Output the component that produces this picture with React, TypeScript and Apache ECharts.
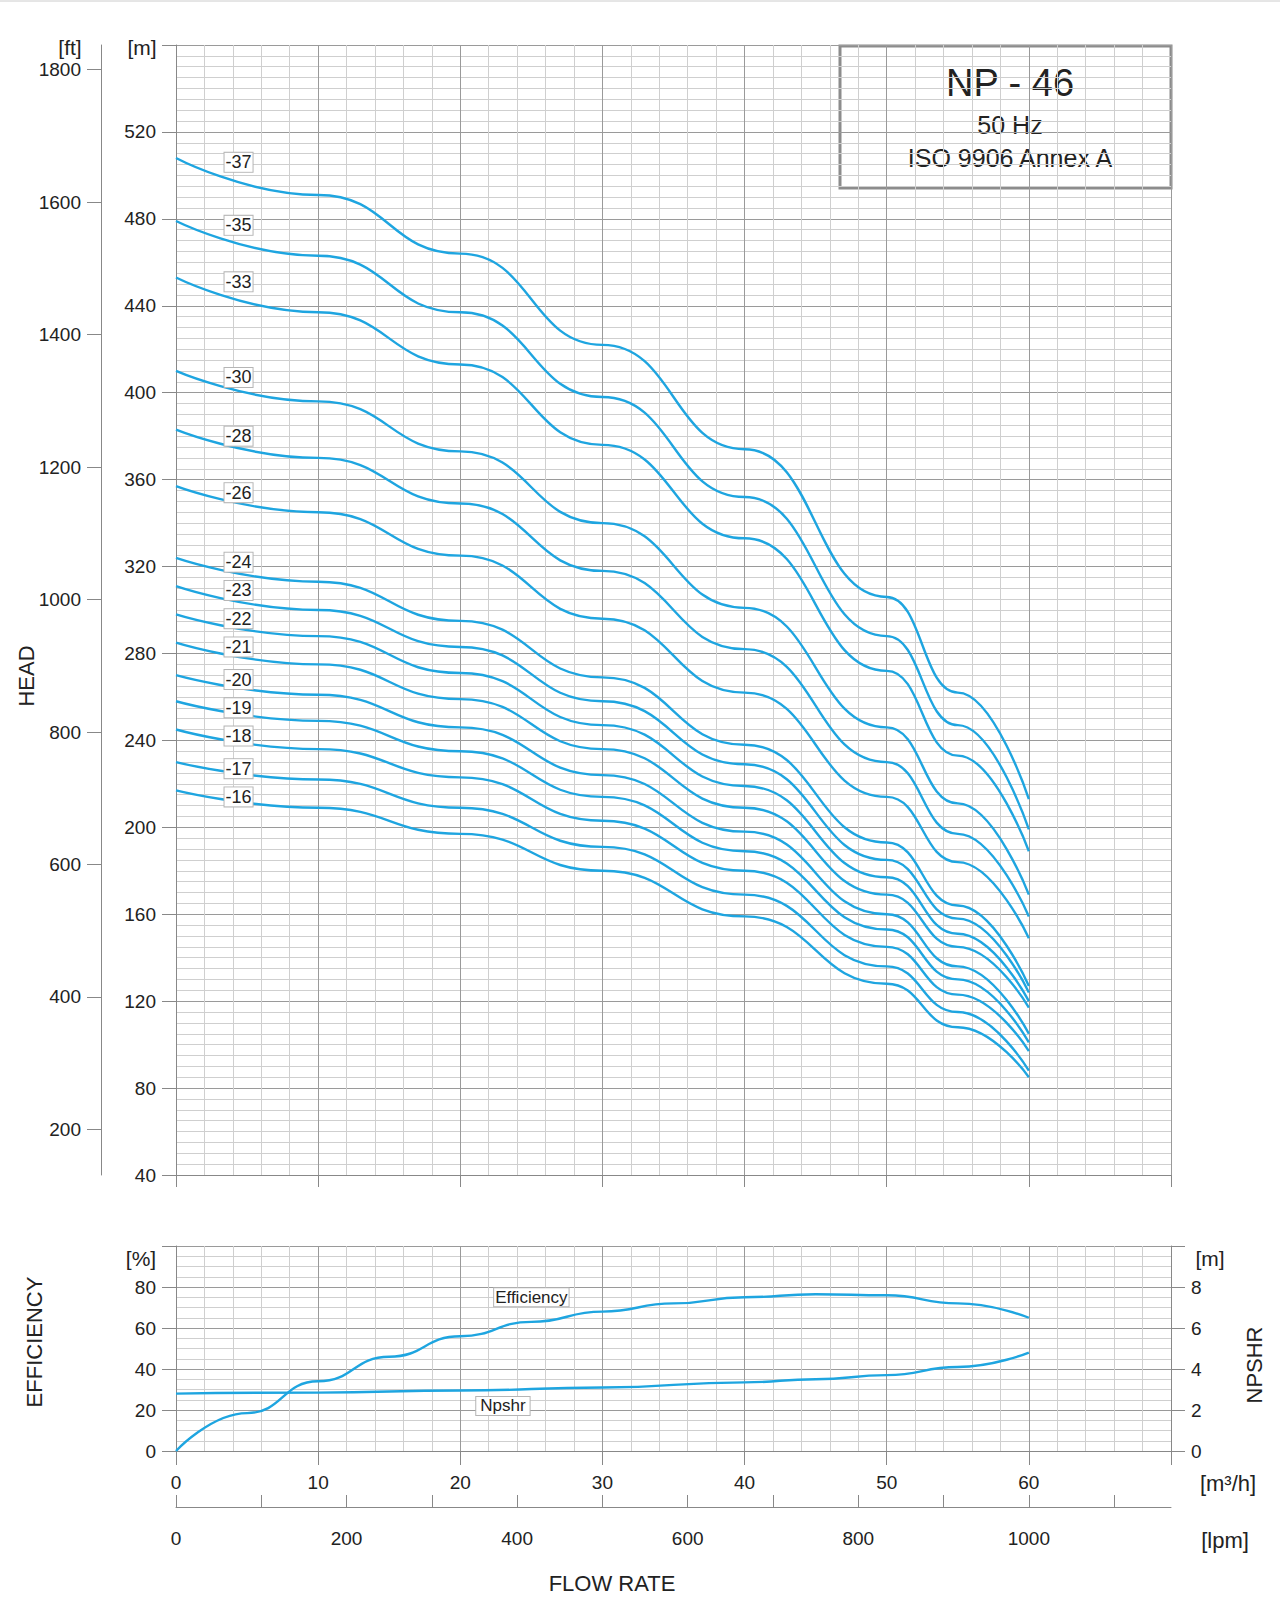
import React, { useEffect, useRef } from "react";
import * as echarts from "echarts";

const flowQ = [0, 10, 20, 30, 40, 50, 55, 60];
const stageNames = ["-37", "-35", "-33", "-30", "-28", "-26", "-24", "-23", "-22", "-21", "-20", "-19", "-18", "-17", "-16"];
const h37 = [508, 491, 464, 422, 374, 306, 262, 213];
const h35 = [479, 463, 437, 398, 352, 288, 247, 199];
const h33 = [453, 437, 413, 376, 333, 272, 233, 189];
const h30 = [410, 396, 373, 340, 301, 246, 211, 169];
const h28 = [383, 370, 349, 318, 282, 230, 197, 159];
const h26 = [357, 345, 325, 296, 262, 214, 184, 149];
const h24 = [324, 313, 295, 269, 238, 193, 164, 127];
const h23 = [311, 300, 283, 258, 229, 185, 158, 124];
const h22 = [298, 288, 271, 247, 219, 177, 151, 120];
const h21 = [285, 275, 259, 236, 209, 169, 145, 117];
const h20 = [270, 261, 246, 224, 198, 160, 136, 105];
const h19 = [258, 249, 235, 214, 189, 153, 130, 101];
const h18 = [245, 236, 223, 203, 180, 145, 123, 97];
const h17 = [230, 222, 209, 191, 169, 136, 115, 88];
const h16 = [217, 209, 197, 180, 159, 128, 108, 85];
const headSeries = [h37, h35, h33, h30, h28, h26, h24, h23, h22, h21, h20, h19, h18, h17, h16];
const labelQ = 4.4;
const labelHeads = [506, 477, 451, 407, 380, 354, 322, 309, 296, 283, 268, 255, 242, 227, 214];

const effQ = [0, 5, 10, 15, 20, 25, 30, 35, 40, 45, 50, 55, 60];
const effVal = [0, 18.5, 34, 46, 56, 63, 68, 72, 75, 76.5, 76, 72, 65];
const npQ = [0, 10, 20, 30, 40, 45, 50, 55, 60];
const npVal = [2.8, 2.85, 2.95, 3.1, 3.35, 3.5, 3.7, 4.1, 4.8];
const ftTicks = [200, 400, 600, 800, 1000, 1200, 1400, 1600, 1800];

const BLUE = "#1ea5e0";
const FONT = "Liberation Sans, Arial, sans-serif";
const TXT = "#222";

export default function App() {
  const ref = useRef<HTMLDivElement>(null);
  useEffect(() => {
    document.body.style.margin = "0";
    const chart = echarts.init(ref.current!, null, { renderer: "svg" });
    const gridLine = { lineStyle: { color: "#9a9a9a", width: 1 } };
    const minorLine = { show: true, lineStyle: { color: "#cfcfcf", width: 1 } };
    const lbl = { color: TXT, fontSize: 19, fontFamily: FONT };
    const axLine = { show: true, onZero: false, lineStyle: { color: "#888" } };
    const series: any[] = headSeries.map((h, i) => ({
      type: "line",
      xAxisIndex: 0,
      yAxisIndex: 0,
      data: flowQ.map((q, j) => [q, h[j]]),
      smooth: 0.5,
      smoothMonotone: "x",
      symbol: "none",
      lineStyle: { color: BLUE, width: 2.4 },
      markPoint: {
        symbol: "rect",
        symbolSize: 0,
        data: [{ coord: [labelQ, labelHeads[i]] }],
        label: {
          show: true,
          position: "inside",
          formatter: stageNames[i],
          backgroundColor: "#fff",
          borderColor: "#b5b5b5",
          borderWidth: 1,
          padding: [1, 1, 0, 1],
          color: TXT,
          fontSize: 18,
          fontFamily: FONT,
        },
      },
    }));
    series.push({
      type: "line", xAxisIndex: 1, yAxisIndex: 2, data: effQ.map((q, j) => [q, effVal[j]]),
      smooth: 0.5, smoothMonotone: "x", symbol: "none", lineStyle: { color: BLUE, width: 2.4 },
      markPoint: {
        symbol: "rect", symbolSize: 0, data: [{ coord: [25, 75] }],
        label: { show: true, position: "inside", formatter: "Efficiency", backgroundColor: "#fff", borderColor: "#b5b5b5", borderWidth: 1, padding: [1, 1, 0, 1], color: TXT, fontSize: 17, fontFamily: FONT },
      },
    });
    series.push({
      type: "line", xAxisIndex: 1, yAxisIndex: 3, data: npQ.map((q, j) => [q, npVal[j]]),
      smooth: 0.5, smoothMonotone: "x", symbol: "none", lineStyle: { color: BLUE, width: 2.4 },
      markPoint: {
        symbol: "rect", symbolSize: 0, data: [{ coord: [23, 2.2] }],
        label: { show: true, position: "inside", formatter: "Npshr", backgroundColor: "#fff", borderColor: "#b5b5b5", borderWidth: 1, padding: [1, 4, 0, 4], color: TXT, fontSize: 17, fontFamily: FONT },
      },
    });

    const textG = (x: number, y: number, text: string, size: number, extra: any = {}) => ({
      type: "text", x, y,
      style: { text, fontSize: size, fontFamily: FONT, fill: TXT, textAlign: "center", textVerticalAlign: "middle", ...extra },
    });
    const rot = (g: any) => ({ ...g, rotation: Math.PI / 2 });

    chart.setOption({
      animation: false,
      grid: [
        { left: 176, width: 995, top: 45, height: 1130, containLabel: false },
        { left: 176, width: 995, top: 1246, height: 205, containLabel: false },
      ],
      xAxis: [
        {
          type: "value", gridIndex: 0, min: 0, max: 70, interval: 10,
          axisLine: axLine,
          axisTick: { show: true, length: 12, lineStyle: { color: "#888" } },
          axisLabel: { show: false },
          splitLine: gridLine, minorTick: { show: false, splitNumber: 5 }, minorSplitLine: minorLine,
        },
        {
          type: "value", gridIndex: 1, min: 0, max: 70, interval: 10,
          axisLine: axLine,
          axisTick: { show: true, length: 14, lineStyle: { color: "#888" } },
          axisLabel: { ...lbl, margin: 22, formatter: (v: number) => (v > 60 ? "" : String(v)) },
          splitLine: gridLine, minorTick: { show: false, splitNumber: 5 }, minorSplitLine: minorLine,
        },
        {
          type: "value", gridIndex: 1, min: 0, max: 7000 / 6, interval: 100, position: "bottom", offset: 56,
          axisLine: axLine,
          axisTick: { show: true, inside: true, length: 12, lineStyle: { color: "#888" } },
          axisLabel: { ...lbl, margin: 22, showMaxLabel: false, formatter: (v: number) => (v % 200 === 0 && v <= 1000 ? String(v) : "") },
          splitLine: { show: false },
        },
      ],
      yAxis: [
        {
          type: "value", gridIndex: 0, min: 40, max: 560, interval: 40, position: "left",
          axisLine: axLine,
          axisTick: { show: true, length: 14, lineStyle: { color: "#888" } },
          axisLabel: { ...lbl, margin: 20, formatter: (v: number) => (v >= 560 ? "" : String(v)) },
          splitLine: gridLine, minorTick: { show: false, splitNumber: 8 }, minorSplitLine: minorLine,
        },
        {
          type: "value", gridIndex: 0, min: 40 * 3.28084, max: 560 * 3.28084, position: "left", offset: 75,
          axisLine: axLine,
          axisTick: { show: true, length: 14, customValues: ftTicks, lineStyle: { color: "#888" } },
          axisLabel: { ...lbl, margin: 20, customValues: ftTicks, formatter: (v: number) => String(Math.round(v)) },
          splitLine: { show: false },
        },
        {
          type: "value", gridIndex: 1, min: 0, max: 100, interval: 20, position: "left",
          axisLine: axLine,
          axisTick: { show: true, length: 14, lineStyle: { color: "#888" } },
          axisLabel: { ...lbl, margin: 20, formatter: (v: number) => (v >= 100 ? "" : String(v)) },
          splitLine: gridLine, minorTick: { show: false, splitNumber: 4 }, minorSplitLine: minorLine,
        },
        {
          type: "value", gridIndex: 1, min: 0, max: 10, interval: 2, position: "right",
          axisLine: axLine,
          axisTick: { show: true, length: 14, lineStyle: { color: "#888" } },
          axisLabel: { ...lbl, margin: 20, formatter: (v: number) => (v >= 10 ? "" : String(v)) },
          splitLine: { show: false },
        },
      ],
      series,
      graphic: [
        { type: "line", shape: { x1: 0, y1: 1, x2: 1280, y2: 1 }, style: { stroke: "#ccc", lineWidth: 1 } },
        { type: "rect", shape: { x: 840, y: 46, width: 331, height: 142 }, style: { fill: "#fff", stroke: "#8c8c8c", lineWidth: 3 } },
        textG(1010, 83, "NP - 46", 38, { fontWeight: 500 }),
        textG(1010, 125, "50 Hz", 25),
        textG(1010, 158, "ISO 9906 Annex A", 25),
        textG(70, 47, "[ft]", 21),
        textG(142, 47, "[m]", 21),
        textG(141, 1258, "[%]", 21),
        textG(1210, 1258, "[m]", 21),
        textG(1228, 1483, "[m³/h]", 22),
        textG(1225, 1540, "[lpm]", 22),
        textG(612, 1583, "FLOW RATE", 22),
        rot(textG(26, 676, "HEAD", 22)),
        rot(textG(34, 1342, "EFFICIENCY", 22)),
        rot(textG(1254, 1365, "NPSHR", 22)),
      ],
    });
    return () => chart.dispose();
  }, []);
  return <div ref={ref} style={{ width: 1280, height: 1623 }} />;
}
